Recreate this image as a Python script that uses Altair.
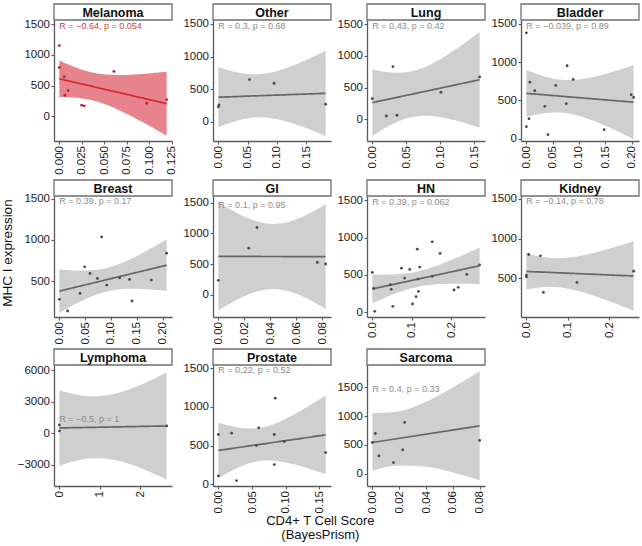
import altair as alt
import numpy as np
import pandas as pd

# ---------------- data ----------------
mel_x = [0.0, 0.0, 0.0054, 0.0098, 0.0061, 0.0248, 0.0277, 0.0606, 0.0971, 0.1192]
mel_y = [1150, 795, 645, 419, 344, 182, 172, 731, 215, 274]

oth_x = [0.0, 0.001, 0.053, 0.095, 0.183]
oth_y = [230, 261, 649, 593, 271]

lung_x = [0.0, 0.0206, 0.0304, 0.0363, 0.101, 0.158]
lung_y = [325, 52, 830, 63, 426, 667]

bla_x = [0.0, 0.0, 0.005, 0.0068, 0.016, 0.035, 0.041, 0.056, 0.0775, 0.076, 0.089, 0.148, 0.1995, 0.204]
bla_y = [1384, 157, 261, 739, 627, 422, 52, 696, 953, 457, 774, 117, 574, 539]

bre_x = [0.0, 0.016, 0.040, 0.049, 0.0595, 0.0737, 0.082, 0.092, 0.117, 0.136, 0.141, 0.1785, 0.208]
bre_y = [283, 142, 355, 676, 596, 536, 1037, 455, 543, 524, 263, 516, 841]

gi_x = [0.0, 0.0234, 0.0297, 0.0762, 0.0826]
gi_y = [234, 758, 1094, 526, 500]

hn_x = [0.0, 0.006, 0.003, 0.046, 0.048, 0.052, 0.074, 0.082, 0.095, 0.102, 0.111,
        0.114, 0.117, 0.12, 0.116, 0.152, 0.152, 0.172, 0.2075, 0.218, 0.24, 0.2725]
hn_y = [534, 13, 320, 369, 307, 80, 591, 458, 574, 111, 209,
        845, 280, 605, 445, 943, 481, 788, 298, 334, 507, 636]

kid_x = [0.0, 0.0, 0.0055, 0.034, 0.041, 0.122, 0.2586]
kid_y = [541, 520, 800, 783, 325, 450, 591]

lym_x = [0.0, 0.005, 2.65]
lym_y = [790, 225, 697]

pro_x = [0.0, 0.0, 0.0197, 0.027, 0.060, 0.0844, 0.083, 0.083, 0.098, 0.0565, 0.1594]
pro_y = [644, 108, 661, 48, 730, 1114, 644, 255, 553, 501, 410]

sar_x = [0.0, 0.0022, 0.0049, 0.0157, 0.0226, 0.024, 0.0799]
sar_y = [541, 698, 307, 192, 412, 890, 576]
# Sarcoma fit line and confidence band
sar_band_x = [0.0, 0.02, 0.04, 0.06, 0.0799]
sar_band_lo = [50, 140, 120, 20, -117]
sar_band_hi = [1050, 1085, 1250, 1497, 1779]
sar_fit_x = [0.0, 0.0799]
sar_fit_y = [541, 831]

names = ["Melanoma", "Other", "Lung", "Bladder", "Breast", "GI", "HN", "Kidney",
         "Lymphoma", "Prostate", "Sarcoma"]
labels = ["R = \u22120.64, p = 0.054", "R = 0.3, p = 0.68", "R = 0.43, p = 0.42",
          "R = \u22120.039, p = 0.89", "R = 0.39, p = 0.17", "R = 0.1, p = 0.95",
          "R = 0.39, p = 0.062", "R = \u22120.14, p = 0.78", "R = \u22120.5, p = 1",
          "R = 0.22, p = 0.52", "R = 0.4, p = 0.33"]
y_domains = [[-398, 1565], [-291, 1561], [-342, 1563], [-31, 1552], [70, 1531],
             [-362, 1607], [-63, 1557], [16, 1533], [-4995, 6475], [-22, 1543],
             [-216, 1889]]
y_ticks = [[0, 500, 1000, 1500]] * 4 + [[500, 1000, 1500], [0, 500, 1000, 1500],
           [0, 500, 1000, 1500], [500, 1000, 1500], [-3000, 0, 3000, 6000],
           [0, 500, 1000, 1500], [0, 500, 1000, 1500]]
x_ticks = [[0, 0.025, 0.05, 0.075, 0.1, 0.125], [0, 0.05, 0.1, 0.15], [0, 0.05, 0.1, 0.15],
           [0, 0.05, 0.1, 0.15, 0.2], [0, 0.05, 0.1, 0.15, 0.2], [0, 0.02, 0.04, 0.06, 0.08],
           [0, 0.1, 0.2], [0, 0.1, 0.2], [0, 1, 2], [0, 0.05, 0.1, 0.15],
           [0, 0.02, 0.04, 0.06, 0.08]]
x_formats = [".3f", ".2f", ".2f", ".2f", ".2f", ".2f", ".1f", ".1f", "d", ".2f", ".2f"]
xs_all = [mel_x, oth_x, lung_x, bla_x, bre_x, gi_x, hn_x, kid_x, lym_x, pro_x, sar_x]
ys_all = [mel_y, oth_y, lung_y, bla_y, bre_y, gi_y, hn_y, kid_y, lym_y, pro_y, sar_y]

# two-sided 95% t quantiles by degrees of freedom (index = df)
T975 = [None, 12.706, 4.303, 3.182, 2.776, 2.571, 2.447, 2.365, 2.306, 2.262, 2.228,
        2.201, 2.179, 2.160, 2.145, 2.131, 2.120, 2.110, 2.101, 2.093, 2.086,
        2.080, 2.074, 2.069, 2.064, 2.060]

W, H = 118, 121
FONT = "Liberation Sans"


def panel(i):
    name = names[i]
    xs = np.asarray(xs_all[i], float)
    ys = np.asarray(ys_all[i], float)
    pts = pd.DataFrame({"x": xs, "y": ys})
    if name == "Sarcoma":
        band = pd.DataFrame({"x": sar_band_x, "lo": sar_band_lo, "hi": sar_band_hi})
        fitdf = pd.DataFrame({"x": sar_fit_x, "fit": sar_fit_y})
    else:
        n = len(xs)
        mx, my = xs.mean(), ys.mean()
        sxx = ((xs - mx) ** 2).sum()
        b1 = ((xs - mx) * (ys - my)).sum() / sxx
        b0 = my - b1 * mx
        res = ys - (b0 + b1 * xs)
        s = np.sqrt((res ** 2).sum() / (n - 2))
        g = np.linspace(xs.min(), xs.max(), 60)
        fit = b0 + b1 * g
        se = s * np.sqrt(1.0 / n + (g - mx) ** 2 / sxx)
        t = T975[n - 2]
        band = pd.DataFrame({"x": g, "lo": fit - t * se, "hi": fit + t * se})
        fitdf = pd.DataFrame({"x": g, "fit": fit})

    r = xs.max() - xs.min()
    xsc = alt.Scale(domain=[xs.min() - 0.05 * r, xs.max() + 0.05 * r], nice=False, zero=False)
    ysc = alt.Scale(domain=y_domains[i], nice=False, zero=False)
    xax = alt.Axis(values=x_ticks[i], format=x_formats[i], labelAngle=270, title=None)
    yax = alt.Axis(values=y_ticks[i], format="d", title=None)

    red = name == "Melanoma"
    fill = "#e6838c" if red else "#cfcfcf"
    lcol = "#d7262f" if red else "#666666"
    pcol = "#c41f2a" if red else "#4a4a4a"
    acol = "#d63a44" if red else "#8c8c8c"

    X = alt.X("x:Q", scale=xsc, axis=xax)
    a = alt.Chart(band).mark_area(color=fill, opacity=1, clip=True,
                                  interpolate="monotone").encode(
        x=X, y=alt.Y("lo:Q", scale=ysc, axis=yax), y2="hi:Q")
    ln = alt.Chart(fitdf).mark_line(color=lcol, strokeWidth=1.7, clip=True).encode(
        x=X, y=alt.Y("fit:Q", scale=ysc, axis=yax))
    pt = alt.Chart(pts).mark_circle(size=8, color=pcol, opacity=1).encode(
        x=X, y=alt.Y("y:Q", scale=ysc, axis=yax))
    ann = alt.Chart(pd.DataFrame({"x": [xs.min()], "y": [1500], "t": [labels[i]]})).mark_text(
        align="left", baseline="middle", fontSize=9, color=acol, font=FONT, dy=2).encode(
        x=X, y=alt.Y("y:Q", scale=ysc, axis=yax), text="t:N")
    sd = pd.DataFrame({"t": [name]})
    srect = alt.Chart(sd).mark_rect(fill="white", stroke="#6e6e6e", strokeWidth=1.3).encode(
        x=alt.value(0), x2=alt.value(W), y=alt.value(-16), y2=alt.value(0))
    stext = alt.Chart(sd).mark_text(fontWeight="bold", fontSize=12.5, baseline="middle",
                                    align="center", font=FONT, color="#111").encode(
        x=alt.value(W / 2), y=alt.value(-7.5), text="t:N")
    layers = [a, ln, pt, ann, srect, stext]
    if name == "Breast":
        yt = alt.Chart(pd.DataFrame({"t": ["MHC I expression"]})).mark_text(
            angle=270, fontSize=13.5, baseline="middle", align="center", font=FONT,
            color="#111").encode(x=alt.value(-46), y=alt.value(57), text="t:N")
        layers.append(yt)
    return alt.layer(*layers).properties(width=W, height=H)


charts = [panel(i) for i in range(len(names))]

chart = alt.concat(
    *charts, columns=4, spacing=4, align="each",
    title=alt.TitleParams(["CD4+ T Cell Score", "(BayesPrism)"], orient="bottom",
                          anchor="middle", fontSize=13, fontWeight="normal", font=FONT,
                          color="#111", lineHeight=14, offset=2),
).properties(
    padding={"left": 1, "top": 3, "right": 2, "bottom": 0}
).configure_view(stroke=None).configure_axis(
    grid=False, domainColor="#5a5a5a", domainWidth=1.3, tickColor="#5a5a5a",
    tickSize=3, tickWidth=1.1, labelFontSize=11.5, labelColor="#1a1a1a", labelFont=FONT,
    labelPadding=1.5
)

chart.save("out.html", embed_options={"renderer": "svg", "actions": False})
